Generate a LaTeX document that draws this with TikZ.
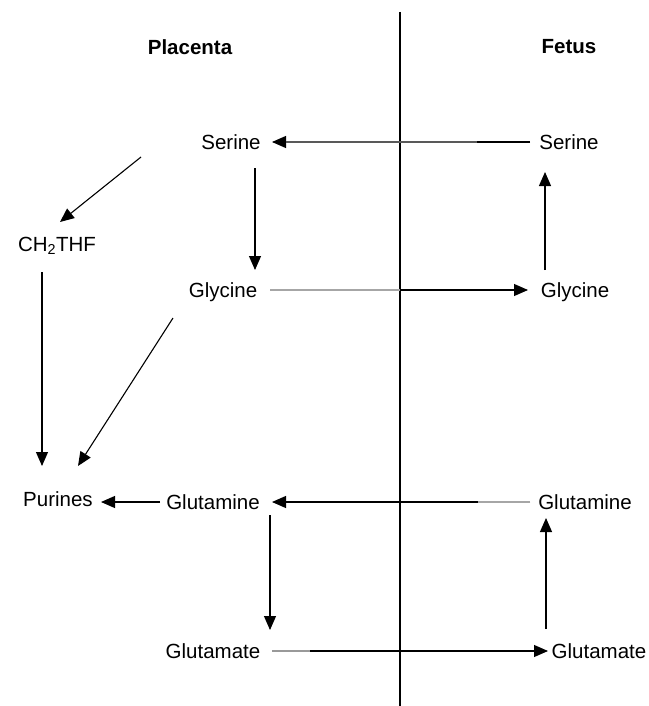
\documentclass[tikz,border=0pt]{standalone}
\usepackage{fontspec}
\setmainfont{Liberation Sans}
\usetikzlibrary{arrows.meta}
\begin{document}
\begin{tikzpicture}[x=1pt,y=-1pt,
  lbl/.style={inner sep=0pt,font=\fontsize{20.5}{24}\selectfont},
  hdr/.style={inner sep=0pt,font=\fontsize{20.5}{24}\selectfont\bfseries},
  arr/.style={line width=1.1pt,-{Triangle[length=14pt,width=12pt]}},
  grayseg/.style={line width=1.2pt},
  divline/.style={line width=1.3pt}]
\useasboundingbox (0,0) rectangle (648,706);
\coordinate (top) at (400,12);
\coordinate (bot) at (400,706);
\draw[divline] (top) -- (bot);
\node[hdr] (pl) at (190,47) {Placenta};
\node[hdr] (fe) at (569,47) {Fetus};
\node[lbl] (sP) at (231,142) {Serine};
\node[lbl] (sF) at (569,142) {Serine};
\node[lbl] (ch) at (57,246) {CH\textsubscript{2}THF};
\node[lbl] (gP) at (223,292) {Glycine};
\node[lbl] (gF) at (575,292) {Glycine};
\node[lbl] (pu) at (58,499) {Purines};
\node[lbl] (qP) at (213,502) {Glutamine};
\node[lbl] (qF) at (585,502) {Glutamine};
\node[lbl] (eP) at (213,651) {Glutamate};
\node[lbl] (eF) at (599,651) {Glutamate};
% arrows
\draw[arr] ([xshift=-39pt]sF.center) -- ([xshift=41pt]sP.center);
\draw[grayseg,black!65] ([xshift=-92pt]sF.center) -- ([xshift=55pt]sP.center);
\draw[arr] ([shift={(-90pt,-15pt)}]sP.center) -- ([shift={(3pt,24pt)}]ch.center);
\draw[arr] ([shift={(24pt,-26pt)}]sP.center) -- ([shift={(32pt,22pt)}]gP.center);
\draw[arr] ([shift={(47pt,2pt)}]gP.center) -- ([shift={(-47pt,2pt)}]gF.center);
\draw[grayseg,black!35] ([shift={(47pt,2pt)}]gP.center) -- ([shift={(-175pt,2pt)}]gF.center);
\draw[arr] ([shift={(-30pt,22pt)}]gF.center) -- ([shift={(-24pt,-30pt)}]sF.center);
\draw[arr] ([shift={(-15pt,-26pt)}]ch.center) -- ([shift={(-16pt,33pt)}]pu.center);
\draw[arr] ([shift={(-50pt,-26pt)}]gP.center) -- ([shift={(20pt,33pt)}]pu.center);
\draw[arr] ([xshift=-53pt]qP.center) -- ([shift={(43pt,-3pt)}]pu.center);
\draw[arr] ([xshift=-55pt]qF.center) -- ([xshift=59pt]qP.center);
\draw[grayseg,black!35] ([xshift=-55pt]qF.center) -- ([xshift=-107pt]qF.center);
\draw[arr] ([shift={(57pt,-13pt)}]qP.center) -- ([shift={(57pt,21pt)}]eP.center);
\draw[arr] ([xshift=59pt]eP.center) -- ([xshift=-51pt]eF.center);
\draw[grayseg,black!40] ([xshift=59pt]eP.center) -- ([xshift=97pt]eP.center);
\draw[arr] ([shift={(-53pt,22pt)}]eF.center) -- ([shift={(-39pt,-16pt)}]qF.center);
\end{tikzpicture}
\end{document}
